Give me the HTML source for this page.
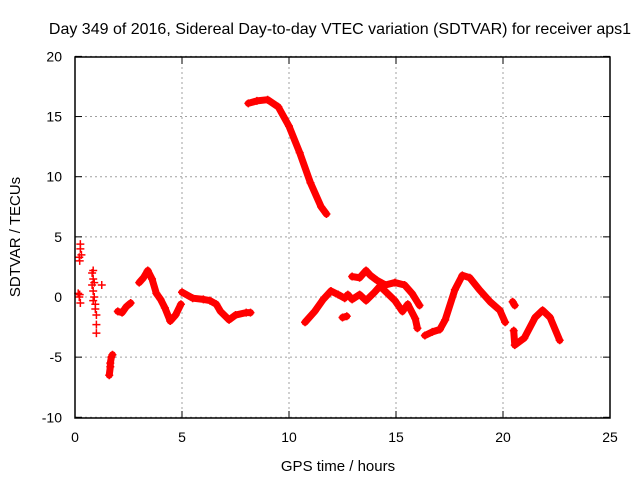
<!DOCTYPE html>
<html><head><meta charset="utf-8"><style>
body{margin:0;background:#fff;}
svg{display:block;font-family:"Liberation Sans",sans-serif;}
</style></head><body>
<svg id="chart" width="640" height="480">
<text x="340" y="34" text-anchor="middle" font-size="16">Day 349 of 2016, Sidereal Day-to-day VTEC variation (SDTVAR) for receiver aps1</text>
<text x="338" y="471" text-anchor="middle" font-size="15">GPS time / hours</text>
<text x="20" y="237" text-anchor="middle" font-size="15" transform="rotate(-90 20 237)">SDTVAR / TECUs</text>
<g id="grid"></g><g id="ticks"></g><g id="marks"></g>
<rect x="75" y="57" width="535" height="361" fill="none" stroke="#000" stroke-width="1.5"/>
</svg>
<script>
const xTicks=[0,5,10,15,20,25];
const yTicks=[-10,-5,0,5,10,15,20];
const segA=[[0.15,0.3],[0.2,0],[0.22,0.2],[0.25,-0.5],[0.2,3.3],[0.22,3.0],[0.25,4],[0.3,3.5],[0.25,4.4]];
const segB=[[0.8,2],[0.85,2.2],[0.85,1.5],[0.8,1],[0.9,1.2],[0.85,0.5],[0.9,0],[0.85,-0.3],[0.95,-0.6],[0.95,-1],[1.0,-1.5],[1.0,-2.3],[1.0,-3],[1.25,1]];
const segC=[[1.6,-6.5],[1.65,-5.8],[1.65,-5.5],[1.7,-5],[1.75,-4.8]];
const segD=[[2.0,-1.2],[2.2,-1.3],[2.4,-0.8],[2.6,-0.5]];
const segE=[[3.0,1.2],[3.2,1.6],[3.4,2.2],[3.6,1.5],[3.8,0.3],[4.0,-0.2],[4.2,-0.9],[4.45,-2],[4.7,-1.5],[4.95,-0.6]];
const segF=[[5.0,0.4],[5.5,-0.1],[6.0,-0.2],[6.3,-0.3],[6.6,-0.6],[6.8,-1.2],[7.2,-1.9],[7.5,-1.5],[8.0,-1.3],[8.2,-1.3]];
const segG=[[8.1,16.1],[8.5,16.3],[9.0,16.4],[9.5,15.8],[10.0,14.2],[10.5,12],[11.0,9.5],[11.5,7.5],[11.75,6.9]];
const segH=[[10.75,-2.1],[11.2,-1.2],[11.6,-0.2],[11.96,0.5],[12.3,0.2],[12.6,-0.1],[12.75,0.2],[12.95,-0.2],[13.3,0.2],[13.6,-0.3],[14.0,0.4],[14.25,0.9],[14.6,0.3],[14.95,-0.3],[15.3,-1.2],[15.55,-0.6],[15.9,-1.8],[16.0,-2.6]];
const segI=[[12.95,1.7],[13.3,1.6],[13.6,2.2],[13.8,1.8],[14.1,1.4],[14.5,1.0],[14.95,1.2],[15.4,1.0],[15.75,0.3],[16.1,-0.7]];
const segJ=[[12.5,-1.7],[12.7,-1.6]];
const segK=[[16.35,-3.2],[16.7,-2.9],[17.05,-2.7],[17.3,-1.9],[17.75,0.6],[18.1,1.8],[18.45,1.6],[18.9,0.6],[19.4,-0.4],[19.85,-1.1],[20.1,-2.1]];
const segL=[[20.45,-0.4],[20.55,-0.7]];
const segM=[[20.5,-2.8],[20.55,-4],[21.0,-3.4],[21.5,-1.7],[21.85,-1.1],[22.2,-1.7],[22.65,-3.6]];
const lineSeries=[segC,segD,segE,segF,segG,segH,segI,segJ,segK,segL,segM];
const scatterSeries=[segA,segB];
const X=t=>75+t*21.4, Y=v=>297-v*12.03;
const NS='http://www.w3.org/2000/svg';
function mk(tag,at,parent){const e=document.createElementNS(NS,tag);for(const k in at)e.setAttribute(k,at[k]);parent.appendChild(e);return e;}
const grid=document.getElementById('grid'),ticks=document.getElementById('ticks'),marks=document.getElementById('marks');
xTicks.forEach(t=>{
 const g=mk('line',{x1:X(t),x2:X(t),y1:57,y2:418,stroke:'#a0a0a0','stroke-dasharray':'2,3'},grid);
 
 
 mk('line',{x1:X(t),x2:X(t),y1:418,y2:411,stroke:'#000'},ticks);
 mk('line',{x1:X(t),x2:X(t),y1:57,y2:64,stroke:'#000'},ticks);
 const l=mk('text',{x:X(t),y:442,'text-anchor':'middle','font-size':14},ticks);
 l.textContent=t;
 
 
});
yTicks.forEach(v=>{
 const g=mk('line',{x1:75,x2:610,y1:Y(v),y2:Y(v),stroke:'#a0a0a0','stroke-dasharray':'2,3'},grid);
 
 
 mk('line',{x1:75,x2:82,y1:Y(v),y2:Y(v),stroke:'#000'},ticks);
 mk('line',{x1:603,x2:610,y1:Y(v),y2:Y(v),stroke:'#000'},ticks);
 const l=mk('text',{x:62,y:Y(v)+5,'text-anchor':'end','font-size':14},ticks);
 l.textContent=v;
 
 
});
function plus(d){
 const x=X(d[0]),y=Y(d[1]);
 const m=mk('path',{d:`M${x-4},${y}H${x+4}M${x},${y-4}V${y+4}`,stroke:'#f00','stroke-width':1.5},marks);
 
 
}
lineSeries.forEach((s,i)=>{
 const p=mk('polyline',{points:s.map(d=>X(d[0])+','+Y(d[1])).join(' '),fill:'none',stroke:'#f00','stroke-width':7,'stroke-linejoin':'round','stroke-linecap':'round'},marks);
 
 
 s.forEach(plus);
});
scatterSeries.forEach(s=>s.forEach(plus));
</script>
</body></html>
